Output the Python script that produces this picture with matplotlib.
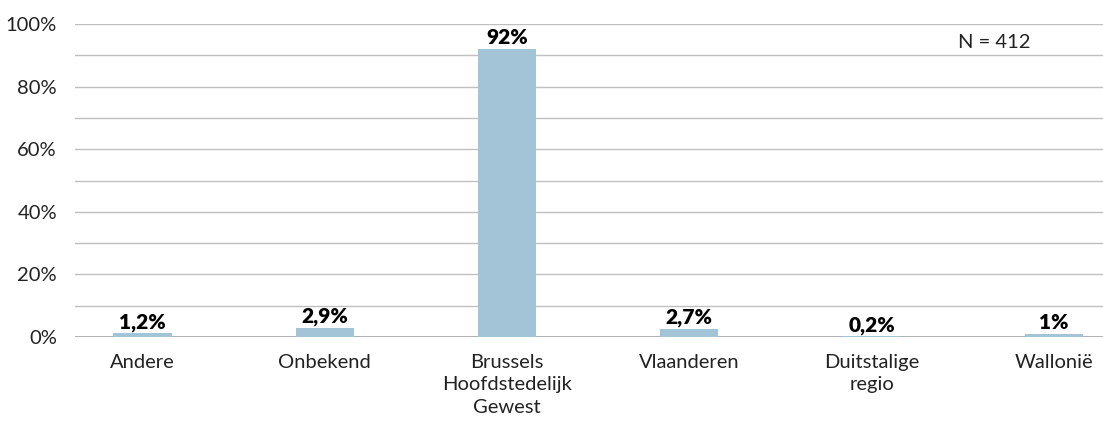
import matplotlib
matplotlib.use("Agg")
import matplotlib.pyplot as plt
from matplotlib.ticker import MultipleLocator, FuncFormatter

categories = ["Andere", "Onbekend", "Brussels\nHoofdstedelijk\nGewest", "Vlaanderen", "Duitstalige\nregio", "Wallonië"]
values = [1.2, 2.9, 92, 2.7, 0.2, 1]
value_labels = ["1,2%", "2,9%", "92%", "2,7%", "0,2%", "1%"]
n_label = "N = 412"

plt.rcParams['font.family'] = ['Lato', 'DejaVu Sans']

fig = plt.figure(figsize=(11.03, 4.21), dpi=100)
ax = fig.add_axes([75/1103, 1 - 337/421, (1103-75)/1103, (337-24)/421])

x = list(range(len(categories)))
ax.bar(x, values, width=0.32, color="#a3c3d7", zorder=3)

for xi, v, lab in zip(x, values, value_labels):
    ax.text(xi, v + 0.5, lab, ha="center", va="bottom", fontsize=15, fontweight="heavy", color="#000000", zorder=4)

ax.set_ylim(0, 100)
ax.set_xlim(-0.37, 5.27)
ax.yaxis.set_major_locator(MultipleLocator(20))
ax.yaxis.set_minor_locator(MultipleLocator(10))
ax.yaxis.set_major_formatter(FuncFormatter(lambda v, p: f"{int(v)}%"))
ax.grid(axis="y", which="both", color="#bfbfbf", linewidth=1, zorder=0)
ax.axhline(0, color="#a6a6a6", linewidth=1.2, zorder=2)

for s in ax.spines.values():
    s.set_visible(False)
ax.tick_params(axis="y", which="both", length=0, labelsize=14.5, colors="#222222", pad=13)
ax.tick_params(axis="x", length=0, labelsize=14.5, colors="#222222", pad=12)
ax.set_xticks(x)
ax.set_xticklabels(categories, linespacing=1.4)

ax.text(994/1103, 1 - 42/421, n_label, transform=fig.transFigure, ha="center", va="center", fontsize=14.5, color="#222222")

fig.savefig("out.png", dpi=100, facecolor="white")
